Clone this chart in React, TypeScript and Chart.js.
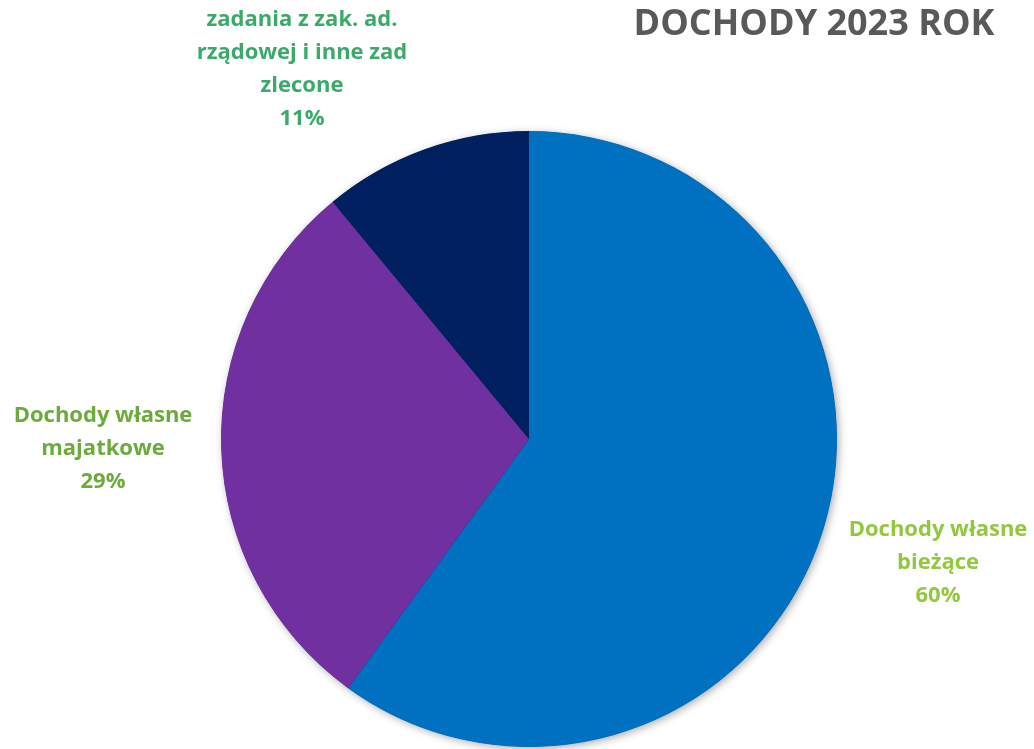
import React, { useEffect, useRef } from "react";
import { Chart, registerables } from "chart.js";

Chart.register(...registerables);

const categories = [
  "Dochody własne bieżące",
  "Dochody własne majatkowe",
  "zadania z zak. ad. rządowej i inne zad zlecone",
];
const values = [60, 29, 11];
const labelLines = [
  ["Dochody własne", "bieżące", "60%"],
  ["Dochody własne", "majatkowe", "29%"],
  ["zadania z zak. ad.", "rządowej i inne zad", "zlecone", "11%"],
];
const sliceColors = ["#0070C0", "#7030A0", "#002060"];
const labelColors = ["#92C83E", "#6AAB3A", "#3AAA6A"];
const titleText = "DOCHODY 2023 ROK";

// label text anchor positions (centre of first line), in canvas px
const labelPos = [
  { x: 938, y: 530 },
  { x: 103, y: 416 },
  { x: 302, y: 20 },
];

const FONT = "'Open Sans', 'DejaVu Sans', sans-serif";

const shadowPlugin = {
  id: "pieShadow",
  beforeDatasetsDraw(chart: any) {
    const meta = chart.getDatasetMeta(0);
    const arc = meta.data[0];
    if (!arc) return;
    const { x, y, outerRadius } = arc.getProps(["x", "y", "outerRadius"], true);
    const ctx = chart.ctx;
    ctx.save();
    ctx.shadowColor = "rgba(0,0,0,0.35)";
    ctx.shadowBlur = 8;
    ctx.shadowOffsetX = 2;
    ctx.shadowOffsetY = 2;
    ctx.fillStyle = "#002060";
    ctx.beginPath();
    ctx.arc(x, y, outerRadius - 0.5, 0, Math.PI * 2);
    ctx.fill();
    ctx.restore();
  },
};

const textPlugin = {
  id: "pieTexts",
  afterDraw(chart: any) {
    const ctx = chart.ctx;
    ctx.save();
    ctx.textAlign = "center";
    ctx.textBaseline = "middle";
    ctx.font = `bold 22px ${FONT}`;
    labelLines.forEach((lines, i) => {
      ctx.fillStyle = labelColors[i];
      lines.forEach((ln, j) => {
        ctx.fillText(ln, labelPos[i].x, labelPos[i].y + j * 33);
      });
    });
    ctx.font = `bold 36px ${FONT}`;
    ctx.fillStyle = "#595959";
    ctx.fillText(titleText, 814, 25);
    ctx.restore();
  },
};

export default function App() {
  const ref = useRef<HTMLCanvasElement | null>(null);
  useEffect(() => {
    document.body.style.margin = "0";
    const chart = new Chart(ref.current as HTMLCanvasElement, {
      type: "pie",
      data: {
        labels: categories,
        datasets: [
          {
            data: values,
            backgroundColor: sliceColors,
            borderWidth: 0,
          },
        ],
      },
      options: {
        animation: false,
        responsive: false,
        layout: { padding: { left: 221, right: 197, top: 131, bottom: 2 } },
        plugins: {
          legend: { display: false },
          tooltip: { enabled: false },
          title: { display: false },
        },
      },
      plugins: [shadowPlugin, textPlugin],
    });
    return () => chart.destroy();
  }, []);
  return (
    <div style={{ width: 1034, height: 749, background: "#fff" }}>
      <canvas ref={ref} width={1034} height={749} />
    </div>
  );
}
